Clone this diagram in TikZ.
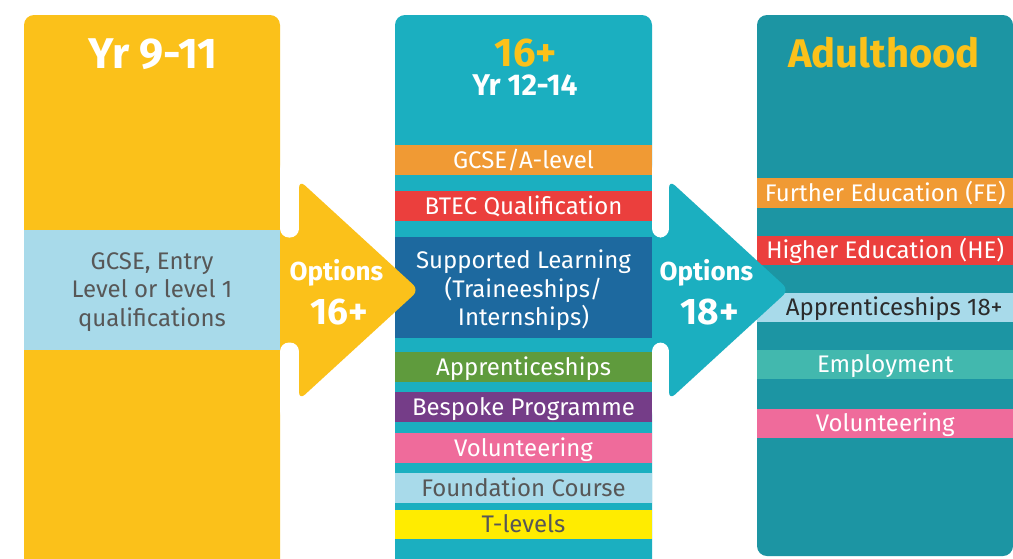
\documentclass[tikz,border=0pt]{standalone}
\usepackage{fontspec}
\setmainfont{Fira Sans}
\definecolor{yrgold}{HTML}{FBC11A}
\definecolor{optteal}{HTML}{1BAFC0}
\definecolor{adultteal}{HTML}{1C95A3}
\definecolor{paleblue}{HTML}{A8DAEA}
\definecolor{barorange}{HTML}{F09A34}
\definecolor{barred}{HTML}{EB3F3D}
\definecolor{barblue}{HTML}{1D699F}
\definecolor{bargreen}{HTML}{5F9B3D}
\definecolor{barpurple}{HTML}{753D88}
\definecolor{barpink}{HTML}{EF6B9B}
\definecolor{baryellow}{HTML}{FFEC00}
\definecolor{barmint}{HTML}{42B8AE}
\definecolor{greytext}{HTML}{575757}
\definecolor{darktext}{HTML}{2B2B2B}
\tikzset{
    linetext/.style = {
        inner sep=0pt,
        align=center,
        text=white,
        font=\fontsize{12}{14.25}\selectfont
    },
    optbar/.style = {
        linetext,
        rectangle,
        minimum width=128.5pt,
        minimum height=14.75pt,
        text height=8.3pt,
        text depth=0pt
    },
    greybar/.style = {
        optbar,
        text=greytext
    },
    heading/.style = {
        anchor=base,
        font=\fontsize{20}{24}\selectfont\bfseries
    },
    subheading/.style = {
        heading,
        font=\fontsize{15}{18}\selectfont\bfseries
    },
    optlabel/.style = {
        anchor=base,
        text=white,
        font=\fontsize{13}{15}\selectfont\bfseries
    },
    agelabel/.style = {
        anchor=base,
        text=white,
        font=\fontsize{18.5}{22}\selectfont\bfseries
    }
}
\begin{document}
\begin{tikzpicture}[x=0.5pt, y=-0.5pt]
    \clip (0,0) rectangle (1013,558);
    \fill[white] (0,0) rectangle (1013,558);
    \fill[yrgold, rounded corners=5pt] (24,15) rectangle (280,590);
    \fill[optteal, rounded corners=5pt] (395,15) rectangle (652,590);
    \fill[adultteal, rounded corners=5pt] (757,15) rectangle (1013,556);

    \node [heading, text=white, font=\fontsize{21.5}{24}\selectfont\bfseries] (yr911) at (153,68) {Yr 9-11};
    \node [heading, text=yrgold] (sixteen) at (526,66) {16+};
    \node [subheading, text=white] (yr1214) at (525,95) {Yr 12-14};
    \node [heading, text=yrgold] (adult) at (884,67) {Adulthood};

    \fill[paleblue] (24,230) rectangle (280,350);
    \node [linetext, text=greytext] (gcse) at (152,292)
        {GCSE, Entry\\Level or level 1\\qualifications};

    \node [optbar, fill=barorange] (alevel) at (523.5,160) {GCSE/A-level};
    \node [optbar, fill=barred] (btec) at (523.5,206) {BTEC Qualification};
    \fill[barblue] (395,237) rectangle (652,338);
    \node [linetext] (supported) at (523.5,290.5)
        {Supported Learning\\(Traineeships/\\Internships)};
    \node [optbar, fill=bargreen] (appr) at (523.5,367) {Apprenticeships};
    \node [optbar, fill=barpurple] (bespoke) at (523.5,407) {Bespoke Programme};
    \node [optbar, fill=barpink] (volun) at (523.5,448) {Volunteering};
    \node [greybar, fill=paleblue] (found) at (523.5,488) {Foundation Course};
    \node [greybar, fill=baryellow] (tlev) at (523.5,524.5) {T-levels};

    \node [optbar, fill=barorange] (fe) at (885.25,193) {Further Education (FE)};
    \node [optbar, fill=barred] (he) at (885.25,250.5) {Higher Education (HE)};
    \node [optbar, fill=paleblue, text=darktext] (apprad) at (885.25,307.5) {\hspace*{9pt}Apprenticeships 18+};
    \node [optbar, fill=barmint] (employ) at (885.25,364.5) {Employment};
    \node [optbar, fill=barpink] (volunad) at (885.25,423.5) {Volunteering};

    \foreach \cx/\dx/\arrowc/\age in {280/0/yrgold/16, 652/370/optteal/18}{
        \fill[\arrowc] (\cx,215) rectangle (306+\dx,365);
        \fill[white, rounded corners=4.5pt] (\cx,160) rectangle (299+\dx,237.5);
        \fill[white, rounded corners=4.5pt] (\cx,342.5) rectangle (299+\dx,420);
        \fill[\arrowc, rounded corners=4pt] (299+\dx,180) -- (419+\dx,290) -- (299+\dx,400) -- cycle;
        \node [optlabel] (opt\age) at (336.5+\dx,280) {Options};
        \node [agelabel] (age\age) at (339.5+\dx,324) {\age+};
    }
\end{tikzpicture}
\end{document}
